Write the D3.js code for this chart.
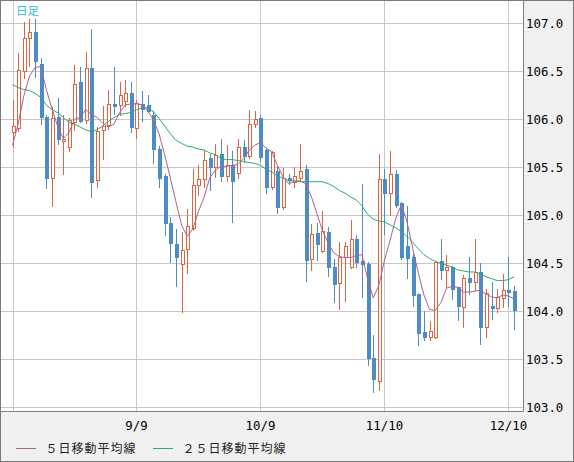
<!DOCTYPE html>
<html><head><meta charset="utf-8">
<script src="https://cdn.jsdelivr.net/npm/d3@7"></script>
<style>html,body{margin:0;padding:0;background:#f0f0f0;} svg{display:block;}</style>
</head><body><svg id="c" width="574" height="462"></svg>
<script>
const dates = ["8/10","8/11","8/12","8/13","8/14","8/17","8/18","8/19","8/20","8/21","8/24","8/25","8/26","8/27","8/28","8/31",
"9/1","9/2","9/3","9/4","9/7","9/8","9/9","9/10","9/11","9/14","9/15","9/16","9/17","9/18","9/21","9/22","9/23","9/24","9/25","9/28","9/29","9/30",
"10/1","10/2","10/5","10/6","10/7","10/8","10/9","10/12","10/13","10/14","10/15","10/16","10/19","10/20","10/21","10/22","10/23","10/26","10/27","10/28","10/29","10/30",
"11/2","11/3","11/4","11/5","11/6","11/9","11/10","11/11","11/12","11/13","11/16","11/17","11/18","11/19","11/20","11/23","11/24","11/25","11/26","11/27","11/30",
"12/1","12/2","12/3","12/4","12/7","12/8","12/9","12/10","12/11"];

const open = [105.87,105.91,106.50,106.85,106.91,106.58,106.02,105.39,106.02,105.77,
105.71,105.97,106.39,105.99,106.53,105.37,105.89,105.94,106.16,106.15,
106.19,106.27,105.91,106.16,106.15,106.05,105.69,105.41,104.92,104.70,
104.49,104.65,104.87,105.32,105.38,105.60,105.50,105.64,105.41,105.52,
105.44,105.71,105.62,105.95,106.01,105.68,105.29,105.46,105.09,105.39,
105.35,105.39,105.48,104.54,104.82,104.63,104.83,104.46,104.30,104.57,
104.46,104.75,104.52,104.49,103.51,103.27,105.38,105.23,105.43,105.13,
104.68,104.57,104.18,103.78,103.73,103.73,104.52,104.43,104.46,104.25,
104.04,104.35,104.31,104.41,103.84,104.06,104.03,104.14,104.22,104.21];

const high = [106.20,106.69,107.01,107.05,107.04,106.64,106.05,106.13,106.22,106.05,
106.01,106.57,106.55,106.70,106.94,105.92,106.14,106.31,106.55,106.39,
106.41,106.39,106.20,106.30,106.25,106.09,105.72,105.43,104.98,104.86,
104.83,105.07,105.48,105.52,105.68,105.64,105.74,105.80,105.73,105.67,
105.79,105.78,106.10,106.09,106.04,105.70,105.67,105.51,105.49,105.43,
105.50,105.74,105.52,104.91,104.92,105.05,104.88,104.54,104.72,104.72,
104.95,104.80,105.33,104.51,103.75,105.64,105.48,105.67,105.47,105.14,
105.10,104.60,104.18,104.00,103.90,104.52,104.75,104.59,104.47,104.25,
104.38,104.57,104.75,104.50,104.23,104.31,104.23,104.39,104.57,104.26];

const low = [105.71,105.88,106.43,106.56,106.44,105.95,105.28,105.10,105.74,105.43,
105.67,105.89,105.97,105.96,105.19,105.30,105.59,105.90,106.06,106.04,
106.14,105.87,105.81,105.98,106.08,105.55,105.30,104.79,104.51,104.26,
103.99,104.40,104.85,105.21,105.30,105.26,105.40,105.36,105.36,104.93,
105.39,105.56,105.60,105.92,105.57,105.23,105.27,105.02,105.07,105.33,
105.29,105.36,104.32,104.43,104.53,104.62,104.37,104.10,104.02,104.11,
104.45,104.46,104.15,103.44,103.16,103.18,104.81,105.00,105.09,104.55,
104.35,104.06,103.65,103.70,103.70,103.72,104.34,104.25,104.13,103.91,
103.84,104.18,104.22,103.66,103.73,103.92,103.99,104.05,104.06,103.82];

const close = [105.93,106.51,106.85,106.91,106.61,106.02,105.39,106.01,105.79,105.80,
105.99,106.37,105.98,106.53,105.35,105.88,105.93,106.16,106.14,106.25,
106.27,105.92,106.17,106.11,106.09,105.69,105.39,104.92,104.71,104.57,
104.64,104.89,105.32,105.38,105.58,105.50,105.63,105.41,105.52,105.36,
105.71,105.62,105.95,106.00,105.61,105.29,105.66,105.09,105.39,105.37,
105.41,105.46,104.53,104.81,104.70,104.84,104.46,104.28,104.57,104.68,
104.75,104.51,104.49,103.51,103.29,105.38,105.23,105.43,105.11,104.57,
104.56,104.17,103.77,103.73,103.80,104.51,104.43,104.46,104.23,104.06,
104.35,104.31,104.41,103.84,104.19,104.03,104.15,104.22,104.20,104.01];

const ma5 = [105.73,105.95,106.24,106.45,106.54,106.55,106.31,106.11,105.93,105.80,
105.86,106.00,106.02,106.10,106.05,106.02,105.96,105.92,105.95,106.07,
106.15,106.16,106.16,106.15,106.09,105.99,105.85,105.63,105.39,105.14,
104.90,104.78,104.86,105.04,105.19,105.39,105.47,105.51,105.51,105.52,
105.53,105.59,105.68,105.73,105.76,105.70,105.66,105.52,105.40,105.33,
105.35,105.36,105.33,105.20,105.02,104.84,104.71,104.61,104.57,104.56,
104.56,104.58,104.59,104.34,104.14,104.27,104.53,104.74,104.97,105.11,
104.93,104.66,104.40,104.17,104.02,104.01,104.09,104.24,104.26,104.25,
104.20,104.20,104.21,104.22,104.18,104.15,104.14,104.17,104.16,104.13];

const ma25 = [106.36,106.33,106.31,106.30,106.27,106.23,106.15,106.10,106.07,106.02,
105.97,105.95,105.92,105.89,105.87,105.89,105.93,105.98,106.02,106.05,
106.06,106.07,106.10,106.12,106.12,106.08,106.01,105.93,105.85,105.78,
105.75,105.72,105.71,105.69,105.68,105.65,105.63,105.59,105.58,105.58,
105.57,105.56,105.55,105.54,105.52,105.48,105.45,105.41,105.39,105.36,
105.36,105.35,105.35,105.35,105.35,105.35,105.33,105.30,105.26,105.23,
105.19,105.16,105.10,105.01,104.96,104.94,104.93,104.90,104.87,104.83,
104.78,104.72,104.65,104.59,104.55,104.52,104.50,104.48,104.46,104.43,
104.42,104.41,104.41,104.39,104.36,104.34,104.32,104.32,104.33,104.36];

const yTicks = [103.0,103.5,104.0,104.5,105.0,105.5,106.0,106.5,107.0];
const gridDates = ["8/10","9/9","10/9","11/10","12/10"];
const tickLabels = ["9/9","10/9","11/10","12/10"];
const legendLabels = ["５日移動平均線","２５日移動平均線"];
const periodLabel = "日足";

const W = 574, H = 462;
const plot = {l:0.5, t:0.5, r:523.5, b:411.5};
const UP = "#dc6440", DOWN = "#4d8bc4", C5 = "#b0608e", C25 = "#2aab6a";

const svg = d3.select("#c");
svg.append("rect").attr("x",0).attr("y",0).attr("width",W).attr("height",H).attr("fill","#f0f0f0");
svg.append("rect").attr("x",plot.l).attr("y",plot.t).attr("width",plot.r-plot.l).attr("height",plot.b-plot.t)
  .attr("fill","#ffffff");

const x = d3.scalePoint().domain(dates).range([12.5, 514.1]);
const y = d3.scaleLinear().domain([103,107]).range([407.3, 23.3]);

const g = svg.append("g");
// horizontal grid
g.selectAll("line.hg").data(yTicks).join("line")
  .attr("x1",plot.l).attr("x2",plot.r)
  .attr("y1",d=>Math.round(y(d))+0.5).attr("y2",d=>Math.round(y(d))+0.5)
  .attr("stroke","#c8c8c8").attr("stroke-width",1);
// vertical grid
g.selectAll("line.vg").data(gridDates).join("line")
  .attr("x1",d=>Math.round(x(d))+0.5).attr("x2",d=>Math.round(x(d))+0.5)
  .attr("y1",plot.t).attr("y2",plot.b)
  .attr("stroke","#c8c8c8").attr("stroke-width",1);

// candles
const idx = d3.range(dates.length);
const cg = svg.append("g");
idx.forEach(i=>{
  const c = Math.round(x(dates[i]));
  const up = close[i] >= open[i];
  const col = up ? UP : DOWN;
  cg.append("line").attr("x1",c+0.5).attr("x2",c+0.5)
    .attr("y1",Math.round(y(high[i]))).attr("y2",Math.round(y(low[i]))+1)
    .attr("stroke",col).attr("stroke-width",1);
  const top = Math.round(y(Math.max(open[i],close[i])));
  const bot = Math.round(y(Math.min(open[i],close[i])));
  if (up) {
    cg.append("rect").attr("x",c-0.5).attr("y",top+0.5)
      .attr("width",3).attr("height",Math.max(1,bot-top))
      .attr("fill","#ffffff").attr("stroke",col).attr("stroke-width",1);
  } else {
    cg.append("rect").attr("x",c-1).attr("y",top)
      .attr("width",4).attr("height",Math.max(2,bot-top+1))
      .attr("fill",col);
  }
});

// moving averages
const line = d3.line().x((d,i)=>x(dates[i])).y(d=>y(d));
svg.append("path").attr("d",line(ma25)).attr("fill","none").attr("stroke",C25).attr("stroke-width",1);
svg.append("path").attr("d",line(ma5)).attr("fill","none").attr("stroke",C5).attr("stroke-width",1);

// plot border
svg.append("line").attr("x1",plot.r).attr("x2",plot.r).attr("y1",0).attr("y2",plot.b).attr("stroke","#808080");
svg.append("line").attr("x1",0).attr("x2",plot.r).attr("y1",plot.b).attr("y2",plot.b).attr("stroke","#808080");

// y labels
svg.selectAll("text.yl").data(yTicks).join("text")
  .attr("x",526).attr("y",d=>y(d)).attr("dy","0.36em")
  .attr("font-family","DejaVu Sans Mono, monospace").attr("font-size","12.4px").attr("fill","#000")
  .text(d=>d3.format(".1f")(d));

// x labels
svg.selectAll("text.xl").data(tickLabels).join("text")
  .attr("x",d=>x(d)).attr("y",430).attr("text-anchor","middle")
  .attr("font-family","DejaVu Sans Mono, monospace").attr("font-size","12.4px").attr("fill","#000")
  .text(d=>d);

// period label
svg.append("text").attr("x",16).attr("y",15).attr("font-family","Noto Sans CJK JP, sans-serif")
  .attr("font-size","11.5px").attr("fill","#35b6e8").text(periodLabel);

// legend
const lg = [{x:16, c:C5},{x:153, c:C25}];
legendLabels.forEach((t,k)=>{
  svg.append("line").attr("x1",lg[k].x).attr("x2",lg[k].x+20).attr("y1",448.5).attr("y2",448.5)
    .attr("stroke",lg[k].c).attr("stroke-width",1);
  svg.append("text").attr("x",lg[k].x+29.5).attr("y",453)
    .attr("font-family","Noto Sans CJK JP, sans-serif").attr("font-size","12px")
    .attr("letter-spacing","1px").attr("fill","#222").text(t);
});

// outer frame
svg.append("rect").attr("x",0.5).attr("y",0.5).attr("width",W-1).attr("height",H-1)
  .attr("fill","none").attr("stroke","#7a7a7a");
</script></body></html>
